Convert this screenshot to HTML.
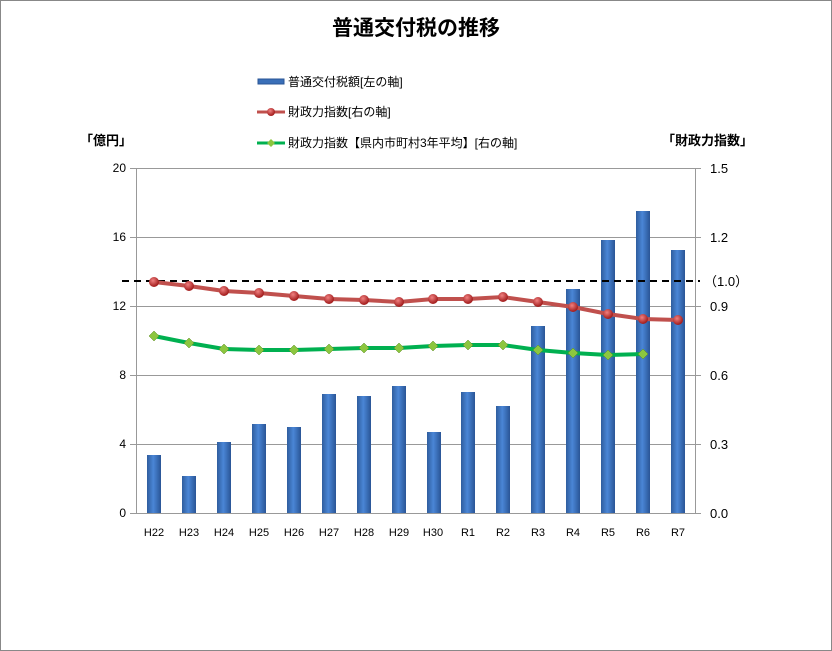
<!DOCTYPE html>
<html><head><meta charset="utf-8"><style>
body{margin:0;background:#fff}
svg{display:block;font-family:"Liberation Sans","Noto Sans CJK JP",sans-serif}
</style></head><body>
<svg width="832" height="651" viewBox="0 0 832 651">
<defs>
<linearGradient id="bg" x1="0" x2="1" y1="0" y2="0">
<stop offset="0" stop-color="#2f5d9e"/><stop offset="0.45" stop-color="#4a86d6"/><stop offset="1" stop-color="#2a5596"/>
</linearGradient>
<radialGradient id="rd" cx="0.4" cy="0.35" r="0.6"><stop offset="0" stop-color="#f08080"/><stop offset="1" stop-color="#a52020"/></radialGradient>
</defs>
<rect x="0.5" y="0.5" width="831" height="650" fill="#fff" stroke="#888"/>
<text x="416" y="35" font-size="21" font-weight="bold" text-anchor="middle">普通交付税の推移</text>
<!-- legend -->
<rect x="258" y="79" width="26" height="5" fill="#3a6fb8" stroke="#2a5596"/>
<text x="288" y="86" font-size="12">普通交付税額[左の軸]</text>
<line x1="257" y1="112" x2="285" y2="112" stroke="#c0504d" stroke-width="3"/><circle cx="271" cy="112" r="4" fill="url(#rd)"/>
<text x="288" y="116" font-size="12">財政力指数[右の軸]</text>
<line x1="257" y1="143" x2="285" y2="143" stroke="#00b050" stroke-width="3"/><path d="M271 139 L275 143 L271 147 L267 143Z" fill="#8cc63f"/>
<text x="288" y="147" font-size="12">財政力指数【県内市町村3年平均】[右の軸]</text>
<text x="80" y="145" font-size="13" font-weight="bold">「億円」</text>
<text x="662" y="145" font-size="13" font-weight="bold">「財政力指数」</text>
<!-- grid -->
<g stroke="#999" stroke-width="1">
<line x1="136" y1="168.5" x2="695" y2="168.5"/>
<line x1="136" y1="237.5" x2="695" y2="237.5"/>
<line x1="136" y1="306.5" x2="695" y2="306.5"/>
<line x1="136" y1="375.5" x2="695" y2="375.5"/>
<line x1="136" y1="444.5" x2="695" y2="444.5"/>
<line x1="136.5" y1="168" x2="136.5" y2="513"/>
<line x1="695.5" y1="168" x2="695.5" y2="513"/>
<line x1="130" y1="513.5" x2="701" y2="513.5"/>
</g>
<g stroke="#999"><line x1="130" y1="168.5" x2="136" y2="168.5"/><line x1="130" y1="237.5" x2="136" y2="237.5"/><line x1="130" y1="306.5" x2="136" y2="306.5"/><line x1="130" y1="375.5" x2="136" y2="375.5"/><line x1="130" y1="444.5" x2="136" y2="444.5"/>
<line x1="695" y1="168.5" x2="701" y2="168.5"/><line x1="695" y1="237.5" x2="701" y2="237.5"/><line x1="695" y1="306.5" x2="701" y2="306.5"/><line x1="695" y1="375.5" x2="701" y2="375.5"/><line x1="695" y1="444.5" x2="701" y2="444.5"/></g>
<g font-size="12" text-anchor="end">
<text x="126" y="172">20</text><text x="126" y="241">16</text><text x="126" y="310">12</text><text x="126" y="379">8</text><text x="126" y="448">4</text><text x="126" y="517">0</text>
</g>
<g font-size="13">
<text x="710" y="173">1.5</text><text x="710" y="242">1.2</text><text x="710" y="311">0.9</text><text x="710" y="380">0.6</text><text x="710" y="449">0.3</text><text x="710" y="518">0.0</text>
<text x="704" y="286">（1.0）</text>
</g>
<!-- bars -->
<g fill="url(#bg)">
<rect x="147" y="455" width="14" height="58"/>
<rect x="182" y="476" width="14" height="37"/>
<rect x="217" y="442" width="14" height="71"/>
<rect x="252" y="424" width="14" height="89"/>
<rect x="287" y="427" width="14" height="86"/>
<rect x="322" y="394" width="14" height="119"/>
<rect x="357" y="396" width="14" height="117"/>
<rect x="392" y="386" width="14" height="127"/>
<rect x="427" y="432" width="14" height="81"/>
<rect x="461" y="392" width="14" height="121"/>
<rect x="496" y="406" width="14" height="107"/>
<rect x="531" y="326" width="14" height="187"/>
<rect x="566" y="289" width="14" height="224"/>
<rect x="601" y="240" width="14" height="273"/>
<rect x="636" y="211" width="14" height="302"/>
<rect x="671" y="250" width="14" height="263"/>
</g>
<line x1="122" y1="281" x2="700" y2="281" stroke="#000" stroke-width="2" stroke-dasharray="7,5"/>
<polyline fill="none" stroke="#c0504d" stroke-width="4" points="154,282 189,286 224,291 259,293 294,296 329,299 364,300 399,302 433,299 468,299 503,297 538,302 573,307 608,314 643,319 678,320"/>
<g fill="url(#rd)">
<circle cx="154" cy="282" r="5"/><circle cx="189" cy="286" r="5"/><circle cx="224" cy="291" r="5"/><circle cx="259" cy="293" r="5"/><circle cx="294" cy="296" r="5"/><circle cx="329" cy="299" r="5"/><circle cx="364" cy="300" r="5"/><circle cx="399" cy="302" r="5"/><circle cx="433" cy="299" r="5"/><circle cx="468" cy="299" r="5"/><circle cx="503" cy="297" r="5"/><circle cx="538" cy="302" r="5"/><circle cx="573" cy="307" r="5"/><circle cx="608" cy="314" r="5"/><circle cx="643" cy="319" r="5"/><circle cx="678" cy="320" r="5"/>
</g>
<polyline fill="none" stroke="#00b050" stroke-width="4" points="154,336 189,343 224,349 259,350 294,350 329,349 364,348 399,348 433,346 468,345 503,345 538,350 573,353 608,355 643,354"/>
<g fill="#8cc63f" stroke="#5a8a20" stroke-width="0.5">
<path d="M154 331l5 5-5 5-5-5z"/><path d="M189 338l5 5-5 5-5-5z"/><path d="M224 344l5 5-5 5-5-5z"/><path d="M259 345l5 5-5 5-5-5z"/><path d="M294 345l5 5-5 5-5-5z"/><path d="M329 344l5 5-5 5-5-5z"/><path d="M364 343l5 5-5 5-5-5z"/><path d="M399 343l5 5-5 5-5-5z"/><path d="M433 341l5 5-5 5-5-5z"/><path d="M468 340l5 5-5 5-5-5z"/><path d="M503 340l5 5-5 5-5-5z"/><path d="M538 345l5 5-5 5-5-5z"/><path d="M573 348l5 5-5 5-5-5z"/><path d="M608 350l5 5-5 5-5-5z"/><path d="M643 349l5 5-5 5-5-5z"/>
</g>
<g font-size="11" text-anchor="middle">
<text x="154" y="536">H22</text><text x="189" y="536">H23</text><text x="224" y="536">H24</text><text x="259" y="536">H25</text><text x="294" y="536">H26</text><text x="329" y="536">H27</text><text x="364" y="536">H28</text><text x="399" y="536">H29</text><text x="433" y="536">H30</text><text x="468" y="536">R1</text><text x="503" y="536">R2</text><text x="538" y="536">R3</text><text x="573" y="536">R4</text><text x="608" y="536">R5</text><text x="643" y="536">R6</text><text x="678" y="536">R7</text>
</g>
</svg>
</body></html>
